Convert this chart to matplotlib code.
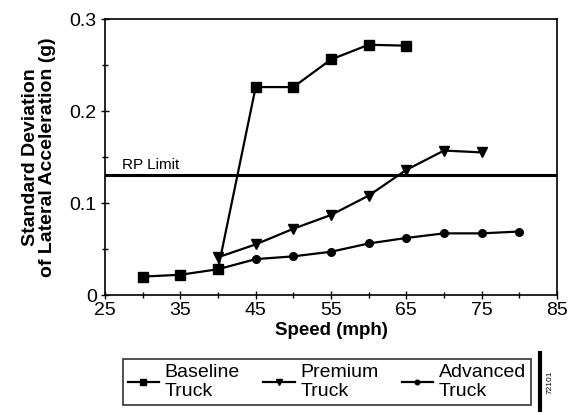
import matplotlib.pyplot as plt
from matplotlib.ticker import MultipleLocator

plt.rcParams['font.family'] = ['Liberation Sans', 'DejaVu Sans']

# data
baseline_speed = [30, 35, 40, 45, 50, 55, 60, 65]
baseline_sd = [0.020, 0.022, 0.028, 0.226, 0.226, 0.256, 0.272, 0.271]

premium_speed = [40, 45, 50, 55, 60, 65, 70, 75]
premium_sd = [0.041, 0.055, 0.072, 0.087, 0.108, 0.136, 0.157, 0.155]

advanced_speed = [40, 45, 50, 55, 60, 65, 70, 75, 80]
advanced_sd = [0.028, 0.039, 0.042, 0.047, 0.056, 0.062, 0.067, 0.067, 0.069]

rp_limit = 0.130

fig = plt.figure(figsize=(5.74, 4.15), dpi=100)
ax = fig.add_axes([105 / 574, 1 - 295 / 415, 452 / 574, 276 / 415])

l1, = ax.plot(baseline_speed, baseline_sd, color='black', marker='s', markersize=6.5, lw=1.6, label='Baseline\nTruck')
l2, = ax.plot(premium_speed, premium_sd, color='black', marker='v', markersize=7, lw=1.6, label='Premium\nTruck')
l3, = ax.plot(advanced_speed, advanced_sd, color='black', marker='o', markersize=5.5, lw=1.6, label='Advanced\nTruck')

ax.axhline(rp_limit, color='black', lw=2.2)
ax.text(27.3, rp_limit + 0.004, 'RP Limit', fontsize=11, va='bottom')

ax.set_xlim(25, 85)
ax.set_ylim(0, 0.3)
ax.xaxis.set_minor_locator(MultipleLocator(5))
ax.yaxis.set_minor_locator(MultipleLocator(0.05))
ax.set_xticks([25, 35, 45, 55, 65, 75, 85])
ax.set_yticks([0, 0.1, 0.2, 0.3])
ax.set_yticklabels(['0', '0.1', '0.2', '0.3'])
ax.tick_params(axis='both', which='both', direction='inout', labelsize=14, width=1)
ax.tick_params(axis='both', which='major', length=6)
ax.tick_params(axis='x', which='major', pad=2)
ax.tick_params(axis='y', which='major', pad=3)
ax.tick_params(axis='both', which='minor', length=5)
for s in ax.spines.values():
    s.set_linewidth(1.2)

ax.set_xlabel('Speed (mph)', fontsize=13.5, fontweight='bold', labelpad=2)
ax.set_ylabel('Standard Deviation\nof Lateral Acceleration (g)', fontsize=14, fontweight='bold',
              linespacing=1.0, labelpad=10)

leg = fig.legend(handles=[l1, l2, l3], loc='center', bbox_to_anchor=(327 / 574, 1 - 382 / 415),
                 ncol=3, fontsize=14, frameon=True, fancybox=False, edgecolor='black',
                 handlelength=1.6, handletextpad=0.3, columnspacing=1.2, markerscale=0.6,
                 borderpad=0.25, labelspacing=0.2, borderaxespad=0)
leg.get_frame().set_linewidth(1.2)

fig.text(550 / 574, 1 - 382 / 415, '72101', rotation=90, fontsize=6, ha='center', va='center')
fig.add_artist(plt.Line2D([540 / 574, 540 / 574], [1 - 353 / 415, 1 - 410 / 415], color='black', lw=3))

fig.savefig('out.png', dpi=100)
